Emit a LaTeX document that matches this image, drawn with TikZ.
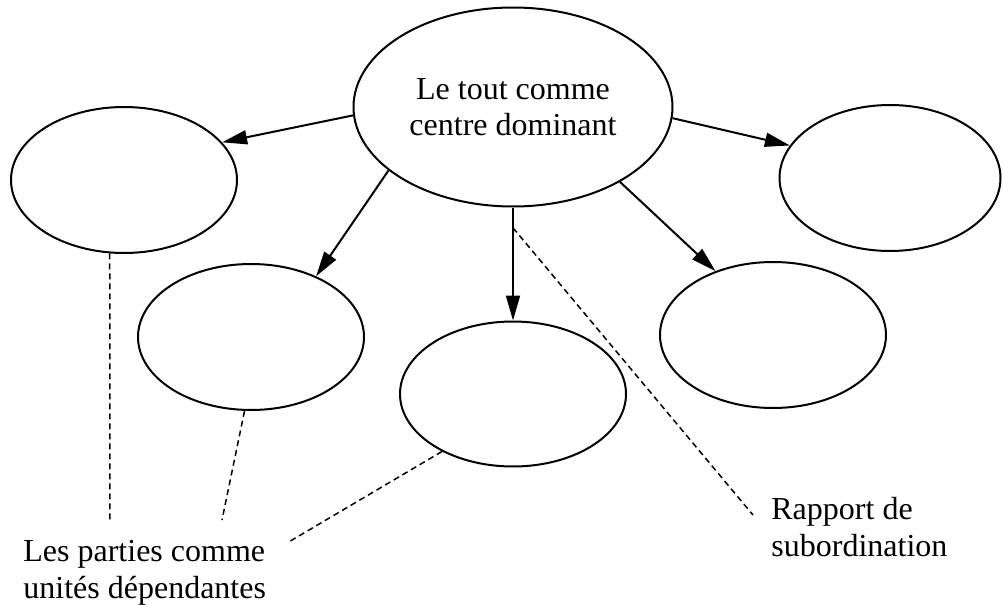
\documentclass[tikz,border=0pt]{standalone}
\usepackage{fontspec}
\setmainfont{Liberation Serif}
\usetikzlibrary{arrows.meta, shapes.geometric}

\begin{document}
\begin{tikzpicture}[x=0.5pt, y=-0.5pt,
        part/.style={ellipse, draw, line width=1pt, minimum width=113pt, minimum height=73pt},
        arr/.style={-{Triangle[length=12.5pt, width=7pt]}, line width=1pt},
        link/.style={dash pattern=on 3pt off 2pt, line width=0.75pt},
        remark/.style={align=left, inner sep=0pt, font=\fontsize{16}{18.25}\selectfont}]
        \useasboundingbox (0,0) rectangle (1003,605);

        % Ellipses
        \node at (513,107) [ellipse, draw, line width=1pt, minimum width=159.5pt, minimum height=99.5pt, align=center, font=\fontsize{16}{18.25}\selectfont] (whole) {Le tout comme\\centre dominant};
        \node at (124,180) [part] (p1) {};
        \node at (251,337) [part] (p2) {};
        \node at (513,394) [part, minimum height=72.5pt] (p3) {};
        \node at (773,335) [part] (p4) {};
        \node at (890,178) [part, minimum width=110.5pt] (p5) {};

        % Texts
        \node at (23,573) [remark, anchor=west] (parts) {Les parties comme\\unités dépendantes};
        \node at (771,527) [remark, anchor=west] (rapport) {Rapport de\\subordination};

        % Arrows
        \draw[arr] (whole.183) -- (p1.21);
        \draw[arr] (whole.207) -- (p2.43);
        \draw[arr] (whole.south) -- coordinate[pos=0.18] (split) (p3.north);
        \draw[arr] (whole.325) -- (p4.132);
        \draw[arr] (whole.356) -- (p5.162);

        % Dashed lines
        \coordinate (e1) at (110,523);
        \coordinate (e2) at (222,520);
        \coordinate (e3) at (287,543);
        \coordinate (e4) at (753,515);
        \draw[link] (p1.259) -- (e1);
        \draw[link] (p2.265) -- (e2);
        \draw[link] (p3.219) -- (e3);
        \draw[link] (split) -- (e4);
\end{tikzpicture}
\end{document}
